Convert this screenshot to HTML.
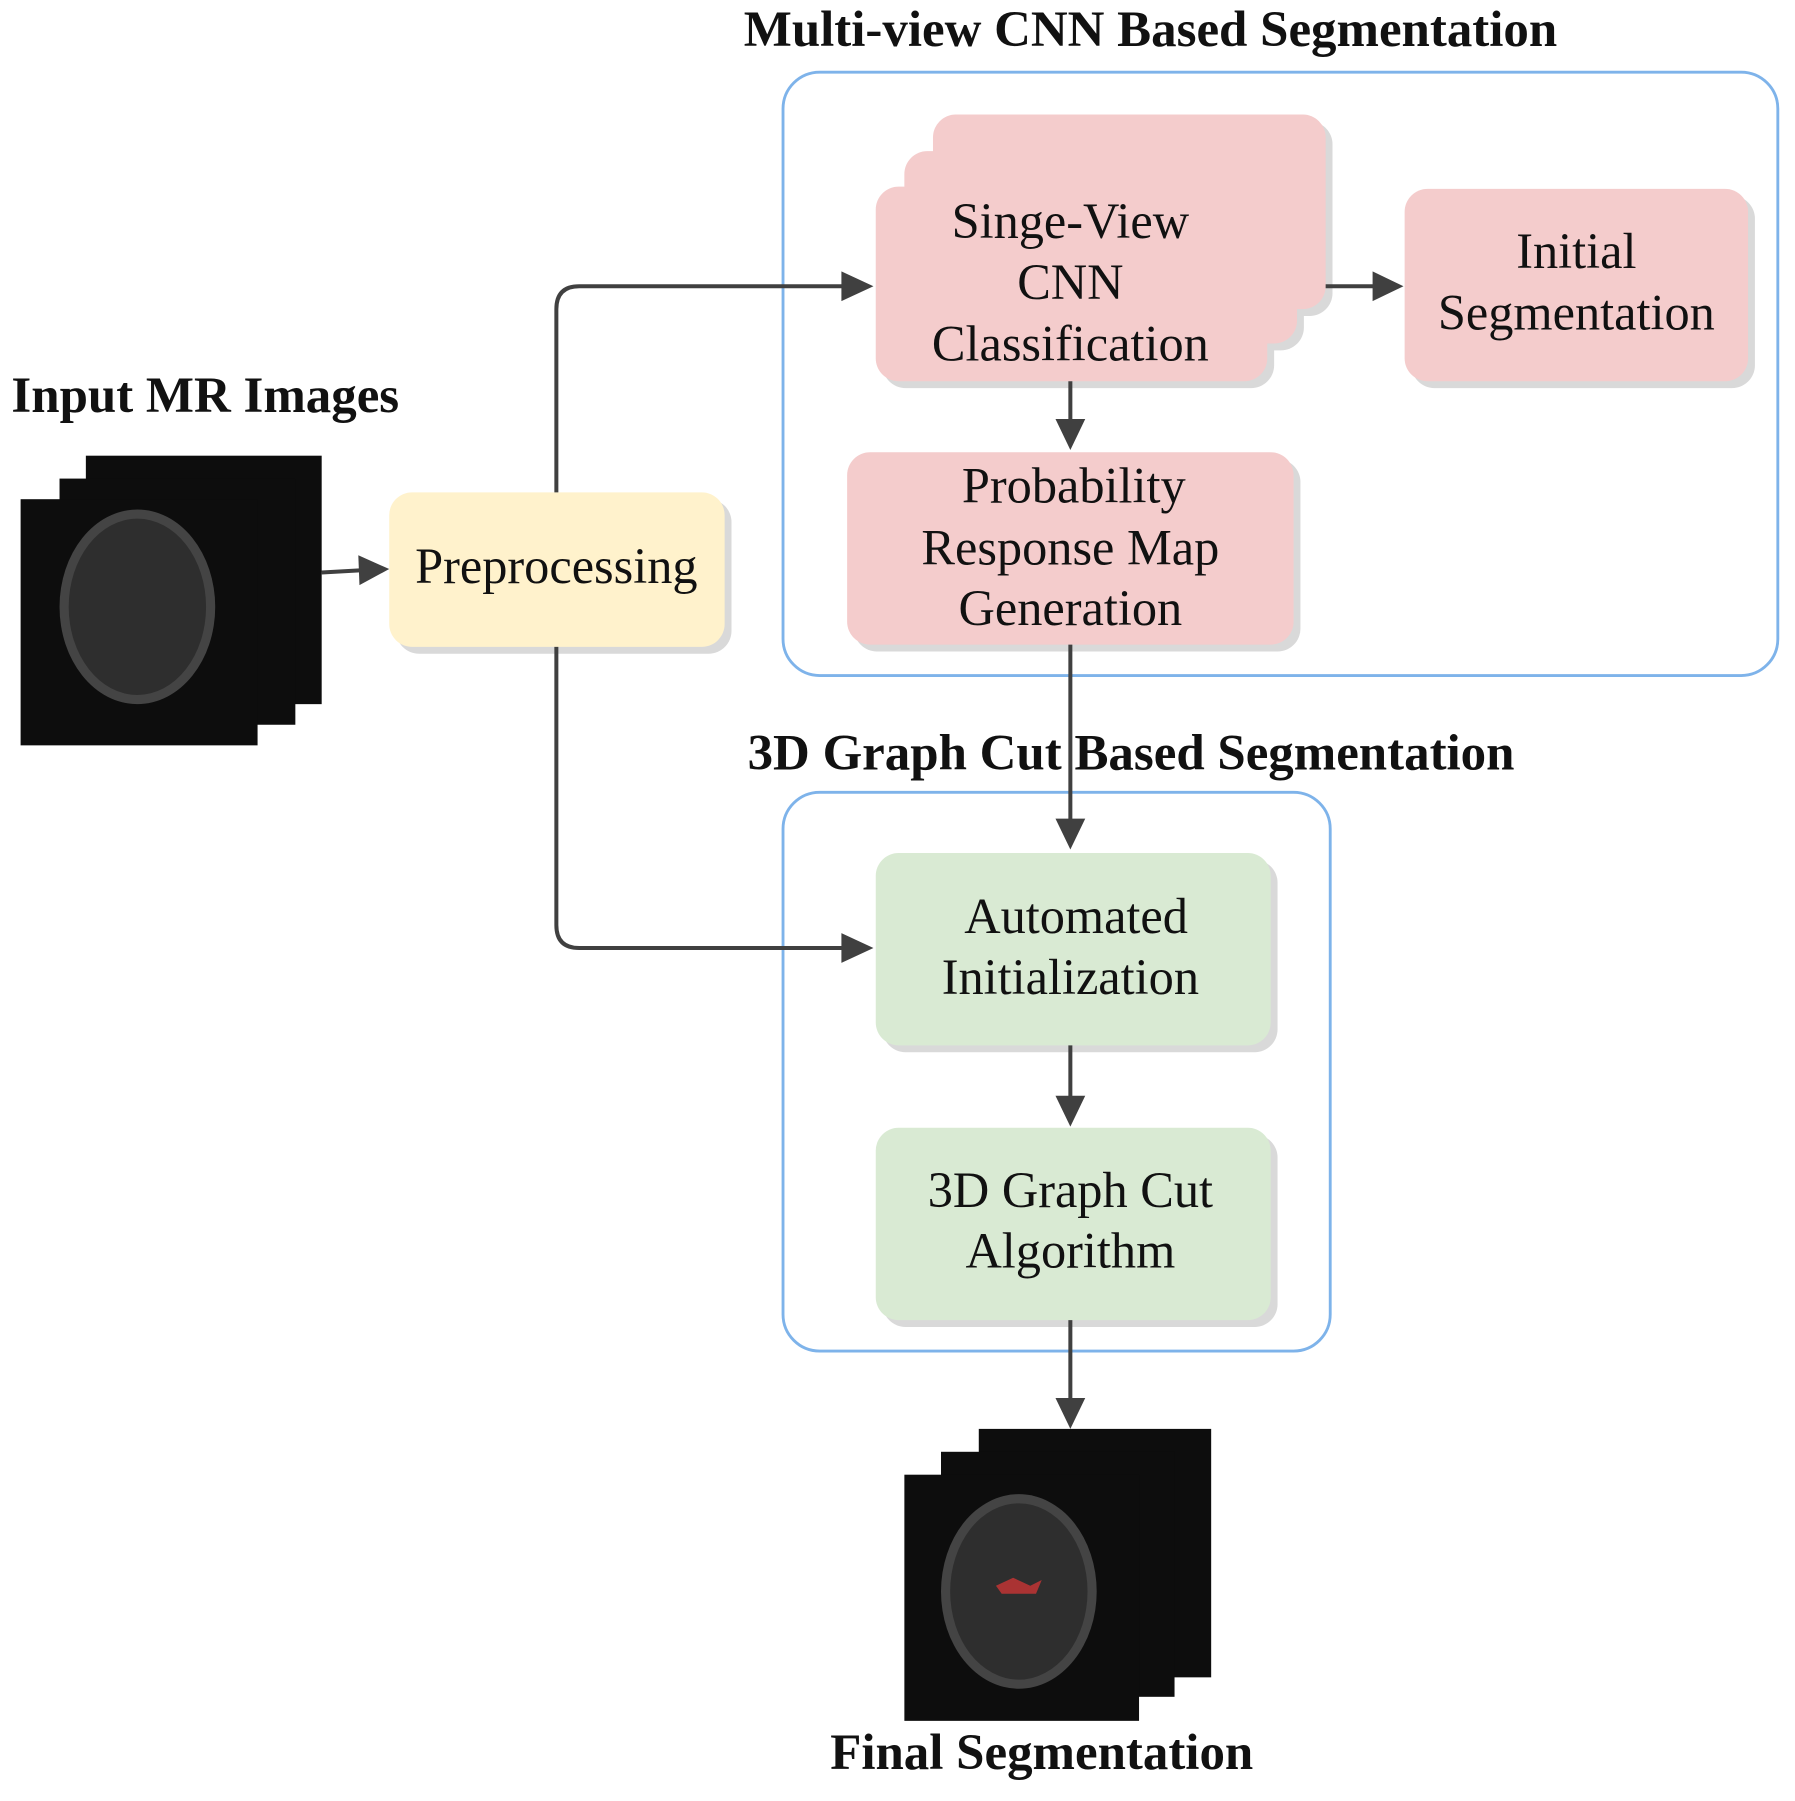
<!DOCTYPE html>
<html><head><meta charset="utf-8"><style>
html,body{margin:0;padding:0;background:#fff;}
svg{display:block;}
text{font-family:"Liberation Serif",serif;fill:#111;}
.b{font-weight:bold;font-size:44.5px;}
.n{font-size:44px;text-anchor:middle;}
</style></head><body>
<svg width="1795" height="1801" viewBox="0 0 1568 1573" preserveAspectRatio="none" xmlns="http://www.w3.org/2000/svg">
<rect width="1568" height="1573" fill="#fff"/>
<text class="b" x="1005" y="40" text-anchor="middle">Multi-view CNN Based Segmentation</text>
<text class="b" x="10" y="360">Input MR Images</text>
<text class="b" x="988" y="672" text-anchor="middle">3D Graph Cut Based Segmentation</text>
<text class="b" x="910" y="1545" text-anchor="middle">Final Segmentation</text>
<rect x="684" y="63" width="869" height="527" rx="32" fill="none" stroke="#7eb3ea" stroke-width="2.5"/>
<rect x="684" y="692" width="478" height="488" rx="32" fill="none" stroke="#7eb3ea" stroke-width="2.5"/>
<g fill="#d9d9d9">
<rect x="821" y="106" width="343" height="170" rx="20"/>
<rect x="796" y="138" width="343" height="168" rx="20"/>
<rect x="771" y="169" width="342" height="170" rx="20"/>
<rect x="1233" y="171" width="300" height="168" rx="20"/>
<rect x="746" y="401" width="390" height="168" rx="20"/>
<rect x="346" y="436" width="293" height="135" rx="20"/>
<rect x="771" y="751" width="345" height="168" rx="20"/>
<rect x="771" y="991" width="345" height="168" rx="20"/>
</g>
<g fill="#f4cccc">
<rect x="815" y="100" width="343" height="170" rx="20"/>
<rect x="790" y="132" width="343" height="168" rx="20"/>
<rect x="765" y="163" width="342" height="170" rx="20"/>
<rect x="1227" y="165" width="300" height="168" rx="20"/>
<rect x="740" y="395" width="390" height="168" rx="20"/>
</g>
<rect x="340" y="430" width="293" height="135" rx="20" fill="#fff2cc"/>
<rect x="765" y="745" width="345" height="168" rx="20" fill="#d9ead3"/>
<rect x="765" y="985" width="345" height="168" rx="20" fill="#d9ead3"/>
<text class="n" x="935" y="208">Singe-View</text>
<text class="n" x="935" y="261">CNN</text>
<text class="n" x="935" y="315">Classification</text>
<text class="n" x="1377" y="234">Initial</text>
<text class="n" x="1377" y="288">Segmentation</text>
<text class="n" x="938" y="439">Probability</text>
<text class="n" x="935" y="493">Response Map</text>
<text class="n" x="935" y="546">Generation</text>
<text class="n" x="486" y="509">Preprocessing</text>
<text class="n" x="940" y="815">Automated</text>
<text class="n" x="935" y="868">Initialization</text>
<text class="n" x="935" y="1054">3D Graph Cut</text>
<text class="n" x="935" y="1107">Algorithm</text>
<g fill="none" stroke="#404040" stroke-width="3.5">
<path d="M281 500 L318 498"/>
<path d="M486 430 L486 270 Q486 250 506 250 L740 250"/>
<path d="M486 565 L486 808 Q486 828 506 828 L740 828"/>
<path d="M935 333 L935 372"/>
<path d="M1158 250 L1204 250"/>
<path d="M935 563 L935 720"/>
<path d="M935 913 L935 962"/>
<path d="M935 1153 L935 1226"/>
</g>
<g fill="#404040">
<polygon points="340,497 313,485 314,511"/>
<polygon points="763,250 735,237 735,263"/>
<polygon points="763,828 735,815 735,841"/>
<polygon points="935,393 922,366 948,366"/>
<polygon points="1226,250 1199,237 1199,263"/>
<polygon points="935,742 922,715 948,715"/>
<polygon points="935,984 922,957 948,957"/>
<polygon points="935,1248 922,1221 948,1221"/>
</g>
<g fill="#0d0d0d">
<rect x="75" y="398" width="206" height="217"/>
<rect x="52" y="418" width="206" height="215"/>
<rect x="18" y="436" width="207" height="215"/>
<rect x="855" y="1248" width="203" height="217"/>
<rect x="822" y="1268" width="204" height="214"/>
<rect x="790" y="1288" width="205" height="215"/>
</g>
<ellipse cx="120" cy="530" rx="68" ry="85" fill="#444"/>
<ellipse cx="120" cy="530" rx="60" ry="77" fill="#2e2e2e"/>
<ellipse cx="890" cy="1390" rx="68" ry="85" fill="#444"/>
<ellipse cx="890" cy="1390" rx="60" ry="77" fill="#2e2e2e"/>
<path d="M870 1385 L885 1378 L900 1385 L910 1380 L905 1392 L875 1392Z" fill="#a33"/>
</svg>
</body></html>
